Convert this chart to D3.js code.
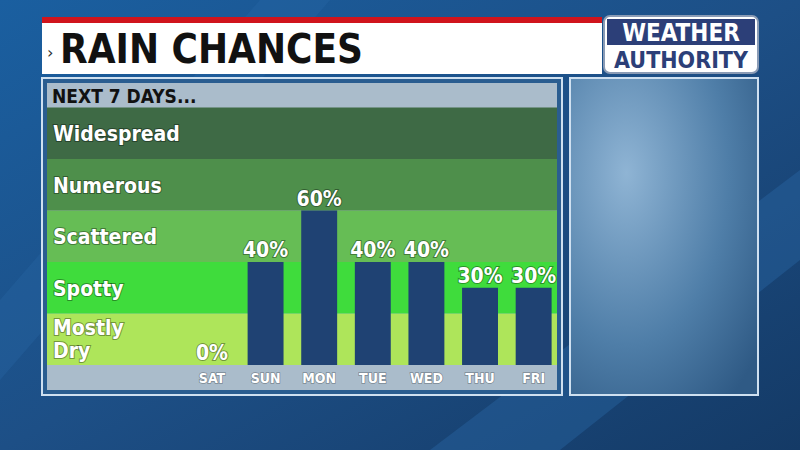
<!DOCTYPE html>
<html><head><meta charset="utf-8">
<script src="https://cdn.jsdelivr.net/npm/d3@7/dist/d3.min.js"></script>
<style>body{margin:0;overflow:hidden}</style></head><body>
<svg id="c" width="800" height="450"></svg>
<script>
const days = ["SAT","SUN","MON","TUE","WED","THU","FRI"];
const chances = [0,40,60,40,40,30,30];
const categories = ["Mostly Dry","Spotty","Scattered","Numerous","Widespread"];
const catColors = ["#aee55a","#3fdc3c","#66bd55","#4e8f4b","#3e6a45"];

const svg = d3.select("#c");
const defs = svg.append("defs");
const bg = defs.append("linearGradient").attr("id","bg").attr("x1",0).attr("y1",0).attr("x2",1).attr("y2",1);
bg.append("stop").attr("offset",0).attr("stop-color","#1a5fa0");
bg.append("stop").attr("offset",0.5).attr("stop-color","#1d4f86");
bg.append("stop").attr("offset",1).attr("stop-color","#143a66");
svg.append("rect").attr("width",800).attr("height",450).attr("fill","url(#bg)");
svg.append("polygon").attr("points","430,450 800,170 800,260 560,450").attr("fill","#2a6aa8").attr("opacity",0.4);
svg.append("polygon").attr("points","0,300 260,0 330,0 0,380").attr("fill","#2a6aa8").attr("opacity",0.3);

const cond = "'Liberation Sans Narrow','DejaVu Sans Condensed',sans-serif";
// title bar
svg.append("rect").attr("x",42).attr("y",17).attr("width",560).attr("height",6).attr("fill","#d0141c");
svg.append("rect").attr("x",42).attr("y",23).attr("width",560).attr("height",51).attr("fill","#ffffff");
svg.append("text").attr("x",47).attr("y",58).attr("font-family","DejaVu Sans").attr("font-size",16).attr("fill","#333").text("›");
svg.append("text").attr("x",60).attr("y",63).attr("font-family",cond)
  .attr("font-weight","bold").attr("font-size",40).attr("fill","#111").text("RAIN CHANCES");
// logo
svg.append("rect").attr("x",604).attr("y",16).attr("width",154).attr("height",57).attr("rx",6).attr("fill","#ffffff").attr("stroke","#8a9bb5").attr("stroke-width",2);
svg.append("rect").attr("x",607).attr("y",19).attr("width",148).attr("height",26).attr("fill","#2c3f78");
svg.append("text").attr("x",681).attr("y",41).attr("text-anchor","middle").attr("font-family",cond).attr("font-weight","bold").attr("font-size",24).attr("fill","#fff").text("WEATHER");
svg.append("text").attr("x",681).attr("y",68).attr("text-anchor","middle").attr("font-family",cond).attr("font-weight","bold").attr("font-size",23).attr("fill","#2c3f78").text("AUTHORITY");

// right picture panel
const rg = defs.append("radialGradient").attr("id","rg").attr("cx",0.3).attr("cy",0.3).attr("r",0.9);
rg.append("stop").attr("offset",0).attr("stop-color","#8fb4d4");
rg.append("stop").attr("offset",0.6).attr("stop-color","#4f7ea8");
rg.append("stop").attr("offset",1).attr("stop-color","#2f5a85");
svg.append("rect").attr("x",570).attr("y",78).attr("width",188).attr("height",317).attr("fill","url(#rg)").attr("stroke","#cfe0f0").attr("stroke-width",2);

// chart panel
svg.append("rect").attr("x",42).attr("y",78).attr("width",520).attr("height",317).attr("fill","#2a5d90").attr("stroke","#cfe0f0").attr("stroke-width",2);
svg.append("rect").attr("x",47).attr("y",83).attr("width",510).attr("height",307).attr("fill","#aabccb");
svg.append("text").attr("x",52).attr("y",103).attr("font-family",cond).attr("font-weight","bold").attr("font-size",19).attr("fill","#111").text("NEXT 7 DAYS...");

const y = d3.scaleLinear().domain([0,100]).range([365,107.5]);
const x = d3.scaleBand().domain(days).range([194,551.6]).paddingInner(0.33).paddingOuter(0);
const bandH = (y(0)-y(100))/5;
categories.forEach((c,i)=>{
  const top = y(0)-(i+1)*bandH;
  svg.append("rect").attr("x",47).attr("y",top).attr("width",510).attr("height",bandH).attr("fill",catColors[i]);
});
const lab = svg.append("g").attr("font-family","'DejaVu Sans Condensed',sans-serif").attr("font-weight","bold").attr("font-size",21).attr("fill","#fff")
  .style("paint-order","stroke").attr("stroke","rgba(0,0,0,0.35)").attr("stroke-width",2);
categories.forEach((c,i)=>{
  const top = y(0)-(i+1)*bandH;
  if(c==="Mostly Dry"){
    lab.append("text").attr("x",53).attr("y",top+21).text("Mostly");
    lab.append("text").attr("x",53).attr("y",top+44).text("Dry");
  } else lab.append("text").attr("x",53).attr("y",top+bandH/2+8).text(c);
});

svg.append("g").selectAll("rect").data(days).join("rect")
  .attr("x",d=>x(d)).attr("width",x.bandwidth())
  .attr("y",(d,i)=>y(chances[i])).attr("height",(d,i)=>y(0)-y(chances[i])).attr("fill","#1f4273");
svg.append("g").attr("font-family","'DejaVu Sans Condensed',sans-serif").attr("font-weight","bold").attr("font-size",21).attr("fill","#fff")
  .style("paint-order","stroke").attr("stroke","rgba(0,0,0,0.35)").attr("stroke-width",2)
  .selectAll("text").data(days).join("text").attr("text-anchor","middle")
  .attr("x",d=>x(d)+x.bandwidth()/2).attr("y",(d,i)=>y(chances[i])-5).text((d,i)=>chances[i]+"%");

const ax = svg.append("g").attr("transform","translate(0,365)").call(d3.axisBottom(x).tickSize(0).tickPadding(8));
ax.select(".domain").remove();
ax.selectAll("text").attr("font-family","'DejaVu Sans Condensed',sans-serif").attr("font-weight","bold").attr("font-size",14).attr("fill","#fff")
  .style("paint-order","stroke").attr("stroke","rgba(0,0,0,0.3)").attr("stroke-width",1.5);
</script></body></html>
